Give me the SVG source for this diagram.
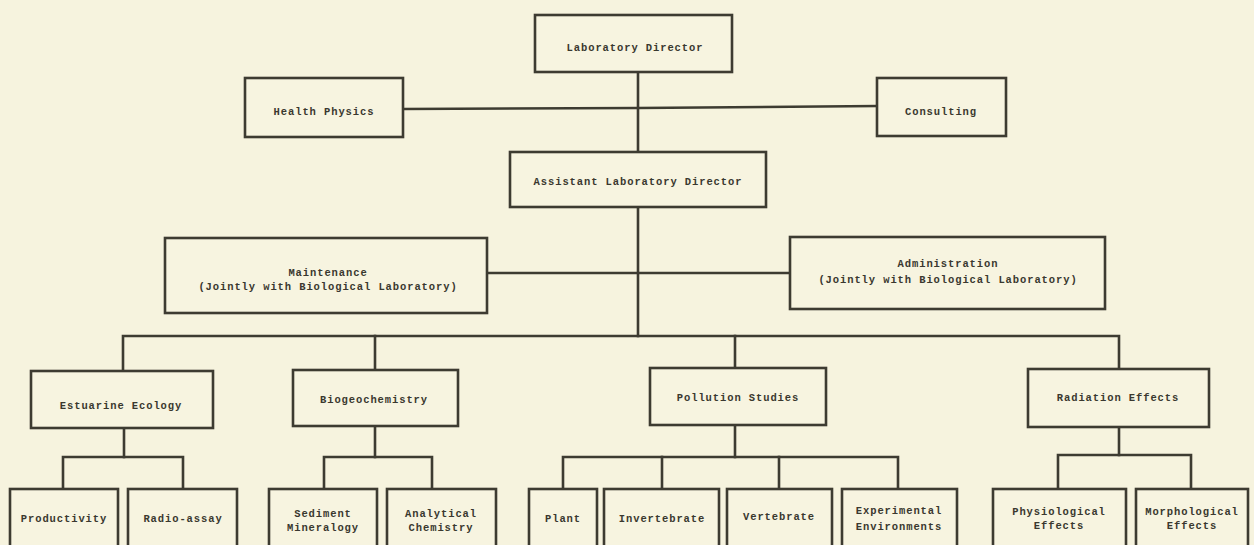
<svg xmlns="http://www.w3.org/2000/svg" width="1254" height="545" viewBox="0 0 1254 545">
<style>
.bg{fill:#f6f3de}
.box{fill:#f7f4e0;stroke:#3d3b31;stroke-width:2.6}
.ln{fill:none;stroke:#3d3b31;stroke-width:2.6;stroke-linecap:square}
text{font-family:"Liberation Mono","DejaVu Sans Mono",monospace;font-size:10.5px;font-weight:bold;letter-spacing:0.9px;fill:#3a382f;text-anchor:middle}
</style>
<rect class="bg" x="0" y="0" width="1254" height="545"/>
<g id="connectors">
<path class="ln" d="M638 72 V152"/>
<path class="ln" d="M403 109 L638 108 L877 106"/>
<path class="ln" d="M638 207 V336"/>
<path class="ln" d="M487 273 H790"/>
<path class="ln" d="M123 371 V336 H1119 V369"/>
<path class="ln" d="M375 336 V370"/>
<path class="ln" d="M735 336 V368"/>
<path class="ln" d="M124 428 V457"/>
<path class="ln" d="M63 489 V457 H183 V489"/>
<path class="ln" d="M375 426 V457"/>
<path class="ln" d="M324 489 V457 H432 V489"/>
<path class="ln" d="M735 425 V457"/>
<path class="ln" d="M563 489 V457 H898 V489"/>
<path class="ln" d="M662 457 V489"/>
<path class="ln" d="M779 457 V489"/>
<path class="ln" d="M1119 427 V455"/>
<path class="ln" d="M1058 489 V455 H1191 V489"/>
</g>
<g id="lab-director"><rect class="box" x="535" y="15" width="197" height="57"/><text x="635" y="51">Laboratory Director</text></g>
<g id="health-physics"><rect class="box" x="245" y="78" width="158" height="59"/><text x="324" y="115">Health Physics</text></g>
<g id="consulting"><rect class="box" x="877" y="78" width="129" height="58"/><text x="941" y="115">Consulting</text></g>
<g id="assistant-director"><rect class="box" x="510" y="152" width="256" height="55"/><text x="638" y="185">Assistant Laboratory Director</text></g>
<g id="maintenance"><rect class="box" x="165" y="238" width="322" height="75"/><text x="328" y="276">Maintenance</text><text x="328" y="290">(Jointly with Biological Laboratory)</text></g>
<g id="administration"><rect class="box" x="790" y="237" width="315" height="72"/><text x="948" y="267">Administration</text><text x="948" y="283">(Jointly with Biological Laboratory)</text></g>
<g id="estuarine-ecology"><rect class="box" x="31" y="371" width="182" height="57"/><text x="121" y="409">Estuarine Ecology</text></g>
<g id="biogeochemistry"><rect class="box" x="293" y="370" width="165" height="56"/><text x="374" y="403">Biogeochemistry</text></g>
<g id="pollution-studies"><rect class="box" x="650" y="368" width="176" height="57"/><text x="738" y="401">Pollution Studies</text></g>
<g id="radiation-effects"><rect class="box" x="1028" y="369" width="181" height="58"/><text x="1118" y="401">Radiation Effects</text></g>
<g id="productivity"><rect class="box" x="10" y="489" width="108" height="70"/><text x="64" y="522">Productivity</text></g>
<g id="radio-assay"><rect class="box" x="128" y="489" width="109" height="70"/><text x="183" y="522">Radio-assay</text></g>
<g id="sediment-mineralogy"><rect class="box" x="269" y="489" width="108" height="70"/><text x="323" y="517">Sediment</text><text x="323" y="531">Mineralogy</text></g>
<g id="analytical-chemistry"><rect class="box" x="387" y="489" width="109" height="70"/><text x="441" y="517">Analytical</text><text x="441" y="531">Chemistry</text></g>
<g id="plant"><rect class="box" x="529" y="489" width="68" height="70"/><text x="563" y="522">Plant</text></g>
<g id="invertebrate"><rect class="box" x="604" y="489" width="115" height="70"/><text x="662" y="522">Invertebrate</text></g>
<g id="vertebrate"><rect class="box" x="727" y="489" width="105" height="70"/><text x="779" y="520">Vertebrate</text></g>
<g id="experimental-environments"><rect class="box" x="842" y="489" width="115" height="70"/><text x="899" y="514">Experimental</text><text x="899" y="530">Environments</text></g>
<g id="physiological-effects"><rect class="box" x="993" y="489" width="133" height="70"/><text x="1059" y="515">Physiological</text><text x="1059" y="529">Effects</text></g>
<g id="morphological-effects"><rect class="box" x="1136" y="489" width="112" height="70"/><text x="1192" y="515">Morphological</text><text x="1192" y="529">Effects</text></g>
</svg>
